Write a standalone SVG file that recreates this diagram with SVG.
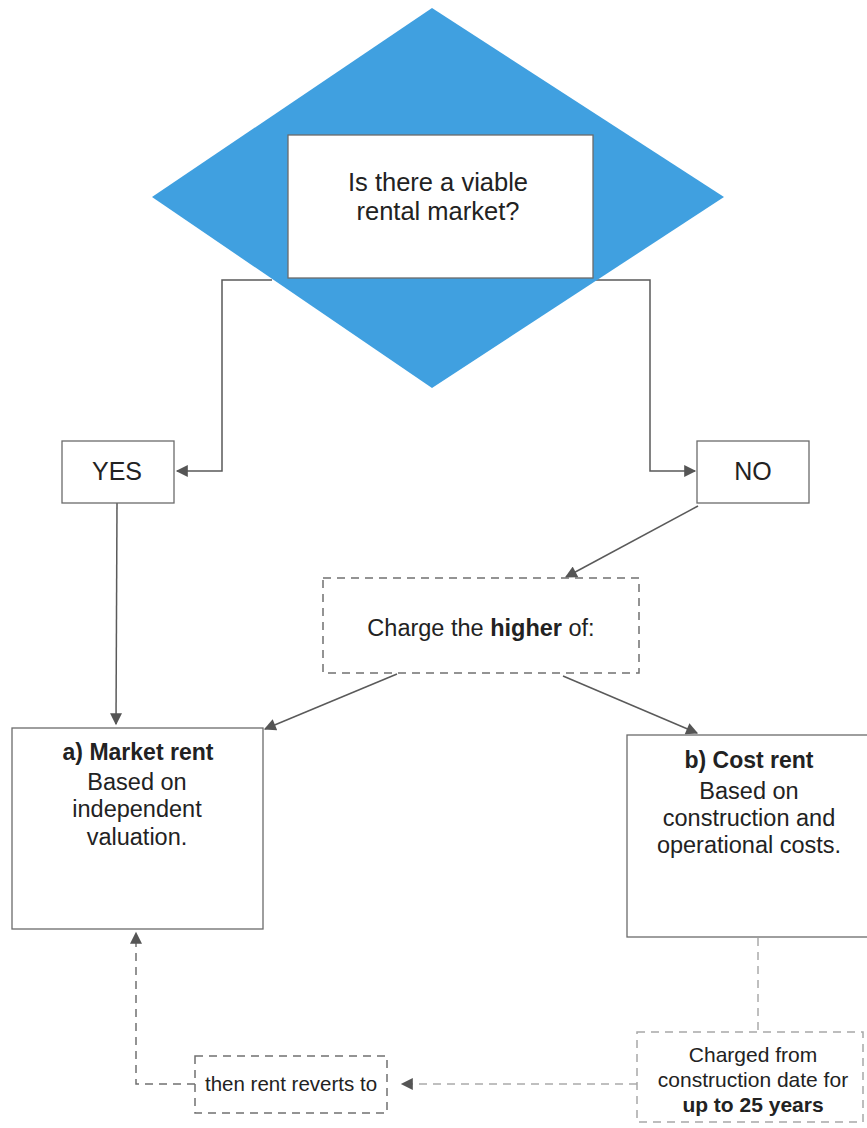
<svg xmlns="http://www.w3.org/2000/svg" width="867" height="1128" viewBox="0 0 867 1128">
  <style>
    .box { fill: #ffffff; stroke: #6b6b6b; stroke-width: 1.3; }
    .dbox { fill: #ffffff; stroke: #707070; stroke-width: 1.5; stroke-dasharray: 8 6; }
    .ldbox { fill: #ffffff; stroke: #a8a8a8; stroke-width: 1.5; stroke-dasharray: 8 6; }
    .line { fill: none; stroke: #5a5a5a; stroke-width: 1.5; }
    .dline { fill: none; stroke: #707070; stroke-width: 1.5; stroke-dasharray: 8 6; }
    .ldline { fill: none; stroke: #aaaaaa; stroke-width: 1.5; stroke-dasharray: 8 6; }
    text { font-family: "Liberation Sans", Arial, sans-serif; fill: #222222; text-anchor: middle; }
    .q { font-size: 25.5px; }
    .yn { font-size: 25px; }
    .body { font-size: 23.5px; }
    .head { font-size: 23px; font-weight: bold; }
    .mid { font-size: 23.5px; }
    .small { font-size: 21px; }
    .smaller { font-size: 20.5px; }
    .b { font-weight: bold; }
  </style>
  <defs>
    <marker id="arrowBig" viewBox="0 0 10 10" refX="9" refY="5" markerWidth="13" markerHeight="12" markerUnits="userSpaceOnUse" orient="auto">
      <path d="M0,0 L10,5 L0,10 Z" fill="#555555"/>
    </marker>
  </defs>

  <!-- connectors -->
  <g id="connectors">
    <polyline class="line" points="272,280 222,280 222,471 177,471" marker-end="url(#arrowBig)"/>
    <polyline class="line" points="590,280 650,280 650,471 695,471" marker-end="url(#arrowBig)"/>
    <line class="line" x1="117" y1="503" x2="116" y2="724" marker-end="url(#arrowBig)"/>
    <line class="line" x1="698" y1="506" x2="566" y2="577" marker-end="url(#arrowBig)"/>
    <line class="line" x1="397" y1="674" x2="265" y2="729" marker-end="url(#arrowBig)"/>
    <line class="line" x1="563" y1="676" x2="697" y2="733" marker-end="url(#arrowBig)"/>
    <line class="ldline" x1="758" y1="938" x2="758" y2="1031"/>
    <line class="ldline" x1="637" y1="1084" x2="402" y2="1084" marker-end="url(#arrowBig)"/>
    <polyline class="dline" points="195,1084 136,1084 136,933" marker-end="url(#arrowBig)"/>
  </g>

  <!-- decision -->
  <g id="decision">
    <polygon points="432,8 724,197 432,388 152,197" fill="#40a0e0"/>
    <rect class="box" x="288" y="135" width="305" height="143"/>
    <text class="q" x="438" y="191">Is there a viable</text>
    <text class="q" x="438" y="220">rental market?</text>
  </g>

  <g id="yes">
    <rect class="box" x="62" y="441" width="112" height="62"/>
    <text class="yn" x="117" y="480">YES</text>
  </g>

  <g id="no">
    <rect class="box" x="697" y="441" width="112" height="62"/>
    <text class="yn" x="753" y="480">NO</text>
  </g>

  <g id="charge-higher">
    <rect class="dbox" x="323" y="578" width="316" height="95"/>
    <text class="mid" x="481" y="636">Charge the <tspan class="b">higher</tspan> of:</text>
  </g>

  <g id="market-rent">
    <rect class="box" x="12" y="728" width="251" height="201"/>
    <text class="head" x="138" y="760">a) Market rent</text>
    <text class="body" x="137" y="790">Based on</text>
    <text class="body" x="137" y="817">independent</text>
    <text class="body" x="137" y="845">valuation.</text>
  </g>

  <g id="cost-rent">
    <rect class="box" x="627" y="735" width="245" height="202"/>
    <text class="head" x="749" y="768">b) Cost rent</text>
    <text class="body" x="749" y="799">Based on</text>
    <text class="body" x="749" y="826">construction and</text>
    <text class="body" x="749" y="853">operational costs.</text>
  </g>

  <g id="charged-from">
    <rect class="ldbox" x="637" y="1032" width="226" height="90"/>
    <text class="small" x="753" y="1062">Charged from</text>
    <text class="small" x="753" y="1087">construction date for</text>
    <text class="small b" x="753" y="1112">up to 25 years</text>
  </g>

  <g id="reverts">
    <rect class="dbox" x="195" y="1056" width="192" height="57"/>
    <text class="smaller" x="291" y="1091">then rent reverts to</text>
  </g>
</svg>
